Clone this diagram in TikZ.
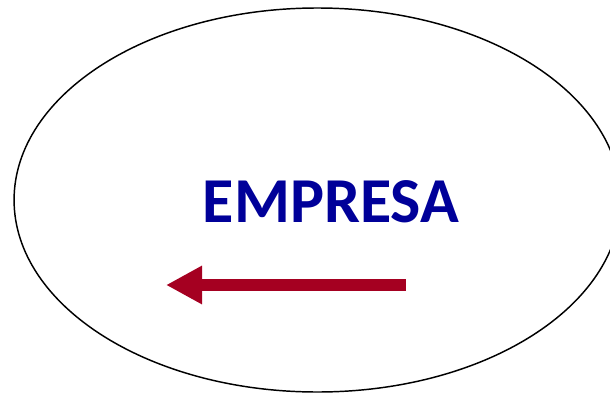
\documentclass[tikz,border=0pt]{standalone}
\usepackage{fontspec}
\setmainfont{Carlito}
\usetikzlibrary{arrows.meta}
\definecolor{empblue}{RGB}{0,0,153}
\definecolor{arrred}{RGB}{165,0,33}

\begin{document}
\begin{tikzpicture}[x=0.75pt,y=-0.75pt,
  title/.style={inner sep=0pt,anchor=base,text=empblue,font=\bfseries\fontsize{48}{48}\selectfont},
  flow/.style={draw=arrred,line width=9pt,-{Triangle[length=27pt,width=27pt]}}]
\useasboundingbox (0,0) rectangle (610,393);
\draw[line width=1.1pt] (317.4,200) ellipse [x radius=227.5pt, y radius=144pt];
\node[title] (emp) at (331,222.7) {EMPRESA};
\coordinate (from) at (405.7,285);
\coordinate (to) at (166,285);
\draw[flow] (from) -- (to);
\end{tikzpicture}
\end{document}
